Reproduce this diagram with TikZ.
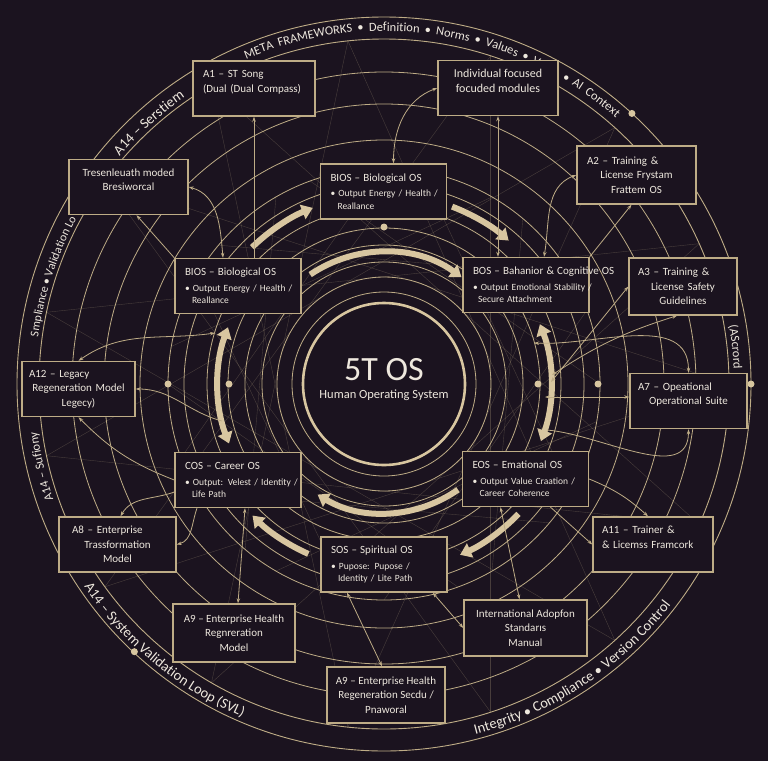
\documentclass[tikz,border=0pt]{standalone}
\usepackage{fontspec}
\setmainfont{Carlito}
\usetikzlibrary{arrows.meta,decorations.text,calc}

\definecolor{bg}{RGB}{27,19,31}
\definecolor{gold}{RGB}{190,172,134}
\definecolor{sand}{RGB}{216,198,160}
\definecolor{ink}{RGB}{238,232,222}

% text helpers
\newcommand{\ostitle}[1]{\leavevmode\hbox to 0pt{\fontsize{11}{12}\selectfont #1\hss}\\[3pt]}
\newcommand{\osline}[1]{\leavevmode\hbox to 0pt{#1\hss}}
\newcommand{\ringsmall}{\fontsize{12}{12}\selectfont\color{ink}}
\newcommand{\ringmid}{\fontsize{12.5}{13}\selectfont\color{ink}}
\newcommand{\ringbig}{\fontsize{14.5}{15}\selectfont\color{ink}}

\begin{document}
\begin{tikzpicture}[x=1pt, y=-1pt,
  every node/.style={text=ink},
  osbox/.style={draw=gold, line width=1.4pt, fill=bg, minimum height=55pt,
    text width=106pt, inner xsep=10pt, align=left,
    font=\fontsize{9.5}{12.5}\selectfont},
  abox/.style={draw=gold, line width=1.4pt, fill=bg, minimum height=55pt,
    align=center, font=\fontsize{11}{14.5}\selectfont},
  orbit/.style={gold, line width=0.8pt},
  faint/.style={gold, line width=0.4pt, opacity=0.28},
  flow/.style={sand, line width=6pt, -{Triangle[width=15pt,length=11pt]}},
  flowboth/.style={sand, line width=6pt,
    {Triangle[width=15pt,length=11pt]}-{Triangle[width=15pt,length=11pt]}},
  link/.style={gold, line width=0.8pt, -{Stealth[length=5pt,width=3.5pt]}},
  linkboth/.style={gold, line width=0.8pt,
    {Stealth[length=5pt,width=3.5pt]}-{Stealth[length=5pt,width=3.5pt]}},
  ringtext/.style={decorate, decoration={text along path, text align=center, text={#1}}},
  ringfit/.style={decorate, decoration={text along path,
    text align=fit to path stretching spaces, text={#1}}}
]
  % background
  \useasboundingbox (0,0) rectangle (768,761);
  \fill[bg] (0,0) rectangle (768,761);
  \coordinate (c) at (384,384);

  % web of faint chords
  \foreach \a in {0,24,...,336}
    \draw[faint] ($(c)+(\a:345)$) -- ($(c)+(\a+144:345)$);
  \foreach \a in {10,40,...,340}
    \draw[faint] ($(c)+(\a:216)$) -- ($(c)+(\a+110:216)$);

  % orbits
  \foreach \rad in {92,107,122,139,156,177,200,216,244,280,312}
    \draw[orbit] (c) circle (\rad);
  \draw[gold, line width=0.9pt] (c) circle (345) (c) circle (367);
  \draw[sand, line width=2.6pt] (c) circle (81);

  % ring texts
  \path[ringfit={|\ringmid|META FRAMEWORKS • Definition • Norms • Values • Value • AI Context}]
    ($(c)+(-113:353)$) arc[start angle=-113, end angle=-49, radius=353];
  \path[ringtext={|\ringbig|A14 – Serstiem}]
    ($(c)+(216:349)$) arc[start angle=216, end angle=240, radius=349];
  \path[ringtext={|\ringsmall|Smpliance • Validation Lo}]
    ($(c)+(185:349)$) arc[start angle=185, end angle=211, radius=349];
  \path[ringtext={|\ringmid|A14 – Sufiony}]
    ($(c)+(155:350)$) arc[start angle=155, end angle=178, radius=350];
  \path[ringtext={|\ringbig|A14 – System Validation Loop (SVL)}]
    ($(c)+(150:362)$) arc[start angle=150, end angle=109, radius=362];
  \path[ringtext={|\ringbig|Integrity • Compliance • Version Control}]
    ($(c)+(79:362)$) arc[start angle=79, end angle=34, radius=362];
  \path[ringtext={|\ringmid|(AScrord}]
    ($(c)+(-15:350)$) arc[start angle=-15, end angle=3, radius=350];

  % dots on the orbits
  \foreach \ang/\rad in {-90/157,180/216,180/155,0/154,0/214,0/367,-47.5/367,133/366}
    \fill[sand] ($(c)+(\ang:\rad)$) circle (3.5);

  % flow arrows round the core
  \draw[flow] ($(c)+(-134:190)$) arc[start angle=-134, end angle=-112, radius=190];
  \draw[flow] ($(c)+(-69:190)$) arc[start angle=-69, end angle=-49, radius=190];
  \draw[flow] ($(c)+(-124:132)$) arc[start angle=-124, end angle=-54, radius=132];
  \draw[flowboth] ($(c)+(200:166)$) arc[start angle=200, end angle=159, radius=166];
  \draw[flowboth] ($(c)+(-21:167)$) arc[start angle=-21, end angle=20, radius=167];
  \draw[flow] ($(c)+(55:129)$) arc[start angle=55, end angle=121, radius=129];
  \draw[flow] ($(c)+(114:186)$) arc[start angle=114, end angle=135, radius=186];
  \draw[flow] ($(c)+(44:187)$) arc[start angle=44, end angle=66, radius=187];

  % core
  \node[font=\fontsize{34}{34}\selectfont] (core) at (384,370) {5T OS};
  \node[font=\fontsize{12.5}{14}\selectfont] (coresub) at (384,395) {Human Operating System};

  % operating systems
  \node[osbox] (biost) at (383.5,191.5)
    {\ostitle{BIOS – Biological OS}\osline{• Output Energy / Health /}\\\hspace*{7pt}Reallance};
  \node[osbox] (biosl) at (238,286)
    {\ostitle{BIOS – Biological OS}\osline{• Output Energy / Health /}\\\hspace*{7pt}Reallance};
  \node[osbox] (bos) at (526,285)
    {\ostitle{BOS – Bahanior \& Cognitive OS}\osline{• Output Emotional Stability /}\\\hspace*{5pt}Secure Attachment};
  \node[osbox] (cos) at (238,480)
    {\ostitle{COS – Career OS}\osline{• Output: Velest / Identity /}\\\hspace*{7pt}Life Path};
  \node[osbox] (eos) at (525.5,479)
    {\ostitle{EOS – Emational OS}\osline{• Output Value Craation /}\\\hspace*{7pt}Career Coherence};
  \node[osbox] (sos) at (384,564.5)
    {\ostitle{SOS – Spiritual OS}\osline{• Pupose: Pupose /}\\\hspace*{7pt}Identity / Lite Path};

  % modules
  \node[abox, text width=102pt, inner xsep=10pt, align=left] (a1) at (254,88.5)
    {A1 – ST Song\\(Dual (Dual Compass)\\\mbox{}};
  \node[abox, minimum width=120pt, font=\fontsize{12}{15}\selectfont] (ind) at (498,88)
    {Individual focused\\focuded modules\\\mbox{}};
  \node[abox, minimum width=119pt] (tres) at (128.5,187)
    {Tresenleuath moded\\Bresiworcal\\\mbox{}};
  \node[abox, text width=99pt, inner xsep=10pt, minimum height=58pt] (a2) at (636.5,175)
    {A2 – Training \&\hfill\null\\License Frystam\\Frattem OS};
  \node[abox, text width=90pt, inner xsep=9pt, minimum height=57pt] (a3) at (683,286.5)
    {A3 – Training \&\hfill\null\\License Safety\\Guidelines};
  \node[abox, text width=99pt, inner xsep=7pt] (a12) at (78.5,389)
    {A12 – Legacy\hfill\null\\Regeneration Model\\Legecy)};
  \node[abox, text width=101pt, inner xsep=8pt] (a7) at (688.5,401)
    {A7 – Opeational\hfill\null\\Operational Suite\\\mbox{}};
  \node[abox, text width=91pt, inner xsep=13pt] (a8) at (117.5,544.5)
    {A8 – Enterprise\hfill\null\\Trassformation\\Model};
  \node[abox, text width=102pt, inner xsep=9pt, align=left] (a11) at (653,544.5)
    {A11 – Trainer \&\\\& Licemss Framcork\\\mbox{}};
  \node[abox, minimum width=122pt, minimum height=58pt] (a9l) at (234,633)
    {A9 – Enterprise Health\\Regnreration\\Model};
  \node[abox, minimum width=123pt, minimum height=56pt] (intl) at (525.5,628)
    {International Adopfon\\Standarıs\\Manual};
  \node[abox, minimum width=118pt, minimum height=56pt] (a9b) at (386,695)
    {A9 – Enterprise Health\\Regeneration Secdu /\\Pnaworal};

  % free ends at the side arrows
  \coordinate (lw1) at (215,333);
  \coordinate (lw2) at (222,421);
  \coordinate (rw1) at (534,343);
  \coordinate (rw2) at (551,382);
  \coordinate (rw3) at (552,375);
  \coordinate (rw4) at (545,397);
  \coordinate (rw5) at (547,430);

  % links
  \draw[link] (a1.south |- biosl.north) -- (a1.south);
  \draw[linkboth] (ind.west) to[out=200, in=90] ([xshift=10pt]biost.north);
  \draw[linkboth] (ind.south) -- (ind.south |- bos.north);
  \draw[linkboth] (a2.west) to[out=200, in=80] ([xshift=18pt]bos.north);
  \draw[link] (bos.north east) -- ([xshift=-5pt]a2.south);
  \draw[linkboth] (tres.east) to[out=-15, in=95] ([xshift=-15pt]biosl.north);
  \draw[link] (biosl.north west) -- ([xshift=8pt]tres.south);
  \draw[linkboth] (a12.north) to[out=35, in=188] (lw1);
  \draw[link] (lw2) to[out=165, in=0] (a12.east);
  \draw[link] (cos.west) to[bend left=12] (a12.south);
  \draw[link] ([yshift=-12pt]cos.west) to[out=200, in=60] ([xshift=3pt]a8.north);
  \draw[linkboth] ([xshift=7pt]cos.south) -- ([xshift=4pt]a9l.north);
  \draw[link] ([xshift=-41pt]cos.south) to[out=-110, in=15] (a8.east);
  \draw[linkboth] ([xshift=-15pt]sos.south east) -- (intl.west);
  \draw[linkboth] ([xshift=-25pt]eos.south) -- ([xshift=-6pt]intl.north);
  \draw[linkboth] ([xshift=-37pt]sos.south) -- ([xshift=-4pt]a9b.north);
  \draw[link] ([xshift=25pt]eos.south) -- (a11.west);
  \draw[link] (eos.east) to[bend left=10] ([xshift=-5pt]a11.north);
  \draw[linkboth] (rw1) to[out=-3, in=90] (a7.north);
  \draw[linkboth] (rw2) -- (a3.west);
  \draw[linkboth] (rw3) to[bend left=8] ([xshift=-6pt]a3.south);
  \draw[linkboth] (rw4) -- (rw4 -| a7.west);
  \draw[link] (rw5) to[out=-5, in=-90] (a7.south);
\end{tikzpicture}
\end{document}
